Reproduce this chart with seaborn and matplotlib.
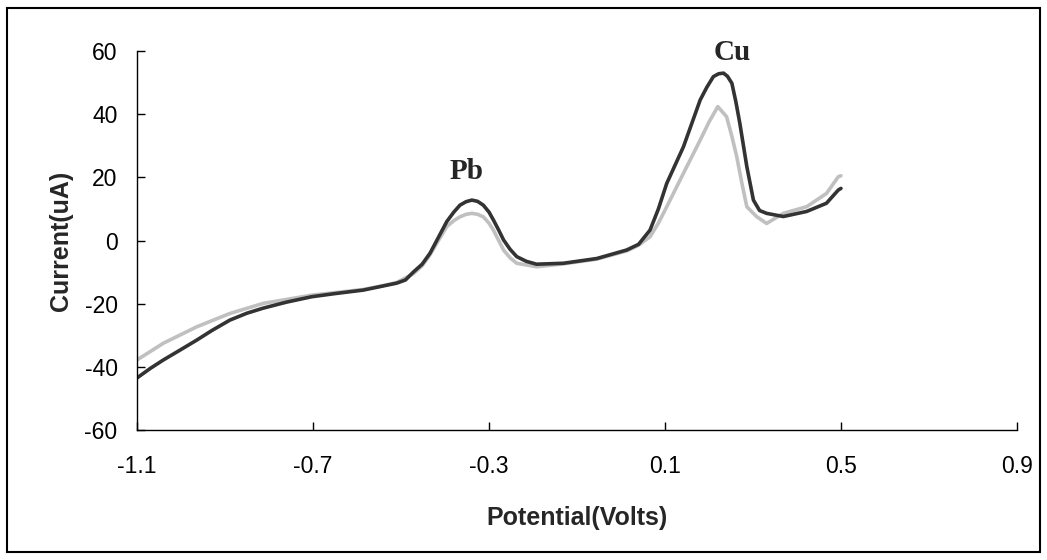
import pandas as pd
import matplotlib.pyplot as plt
import matplotlib.patches as patches
import seaborn as sns

# === data ===
v_dark = [-1.10, -1.07, -1.04, -1.00, -0.964, -0.93, -0.889, -0.85, -0.813, -0.76,
          -0.703, -0.65, -0.586, -0.548, -0.51, -0.49, -0.472, -0.452, -0.434, -0.415,
          -0.396, -0.38, -0.366, -0.352, -0.339, -0.326, -0.313, -0.30, -0.29, -0.278,
          -0.267, -0.252, -0.237, -0.215, -0.192, -0.131, -0.055, 0.013, 0.04, 0.066,
          0.085, 0.104, 0.142, 0.180, 0.195, 0.210, 0.222, 0.233, 0.242, 0.252,
          0.261, 0.270, 0.286, 0.301, 0.315, 0.331, 0.369, 0.422, 0.467, 0.494, 0.50]
i_dark = [-43.5, -40.5, -37.8, -34.5, -31.5, -28.5, -25.2, -23.0, -21.4, -19.5,
          -17.8, -16.8, -15.7, -14.6, -13.5, -12.5, -10.0, -7.5, -4.0, 1.0,
          6.0, 9.0, 11.2, 12.3, 12.8, 12.4, 11.2, 9.0, 6.5, 3.3,
          0.2, -2.8, -5.1, -6.6, -7.5, -7.2, -5.7, -3.0, -1.2, 3.3,
          10.0, 18.1, 29.7, 44.5, 48.5, 51.9, 52.8, 53.0, 52.0, 49.8,
          44.0, 37.2, 23.4, 12.8, 9.5, 8.6, 7.6, 9.2, 11.8, 16.0, 16.5]

v_gray = [-1.10, -1.04, -0.964, -0.889, -0.813, -0.703, -0.65, -0.586, -0.548, -0.51,
          -0.472, -0.452, -0.434, -0.415, -0.396, -0.38, -0.366, -0.352, -0.339, -0.326,
          -0.313, -0.30, -0.29, -0.278, -0.267, -0.252, -0.237, -0.192, -0.131, -0.055,
          0.013, 0.04, 0.066, 0.085, 0.104, 0.142, 0.180, 0.200, 0.22, 0.24,
          0.252, 0.263, 0.275, 0.286, 0.308, 0.331, 0.369, 0.422, 0.467, 0.494, 0.50]
i_gray = [-37.8, -32.5, -27.3, -23.1, -19.9, -17.3, -16.5, -15.5, -14.5, -13.3,
          -10.5, -8.0, -4.5, 0.0, 4.4, 6.3, 7.5, 8.3, 8.6, 8.3,
          7.5, 5.5, 3.3, 0.0, -3.0, -5.5, -7.2, -8.3, -7.4, -5.9,
          -3.3, -1.5, 1.2, 5.5, 10.7, 21.3, 31.8, 37.5, 42.4, 39.2,
          33.0, 26.6, 18.0, 10.7, 7.6, 5.4, 8.6, 10.7, 14.9, 20.2, 20.5]

peak_names = ["Pb", "Cu"]
peak_x = [-0.352, 0.252]
peak_y = [22, 59.5]

x_ticks = [-1.1, -0.7, -0.3, 0.1, 0.5, 0.9]
y_ticks = [-60, -40, -20, 0, 20, 40, 60]

df_dark = pd.DataFrame({"v": v_dark, "i": i_dark})
df_gray = pd.DataFrame({"v": v_gray, "i": i_gray})

# === plot ===
sns.set_style("ticks")
plt.rcParams['font.family'] = ['Liberation Sans', 'DejaVu Sans']
plt.rcParams['axes.unicode_minus'] = False

fig = plt.figure(figsize=(10.47, 5.6), dpi=100)
ax = fig.add_axes([0.1309, 0.2321, 0.8404, 0.6768])

sns.lineplot(data=df_gray, x="v", y="i", ax=ax, color="#c0c0c0", linewidth=2.6, sort=False)
sns.lineplot(data=df_dark, x="v", y="i", ax=ax, color="#333333", linewidth=2.6, sort=False)

for name, px, py in zip(peak_names, peak_x, peak_y):
    ax.text(px, py, name, ha="center", va="center", fontsize=21, fontweight="bold",
            family=["Liberation Serif", "DejaVu Serif"])

ax.set_xlim(-1.1, 0.9)
ax.set_ylim(-60, 60)
ax.set_xticks(x_ticks)
ax.set_xticklabels([f"{t:g}" for t in x_ticks])
ax.set_yticks(y_ticks)
ax.tick_params(direction="in", length=6, width=1, labelsize=16.5, colors="black", pad=14)
ax.tick_params(axis="x", pad=18)
for side in ["top", "right"]:
    ax.spines[side].set_visible(False)
for side in ["left", "bottom"]:
    ax.spines[side].set_color("black")
    ax.spines[side].set_linewidth(1)

ax.set_xlabel("Potential(Volts)", fontsize=18, fontweight="bold", labelpad=20)
ax.set_ylabel("Current(uA)", fontsize=18, fontweight="bold", labelpad=8)

# outer frame round the whole chart
fig.patches.append(patches.Rectangle((7 / 1047, 8 / 560), 1033 / 1047, 544 / 560,
                                     transform=fig.transFigure, fill=False,
                                     edgecolor="black", linewidth=1.5))

fig.savefig("out.png", dpi=100)
